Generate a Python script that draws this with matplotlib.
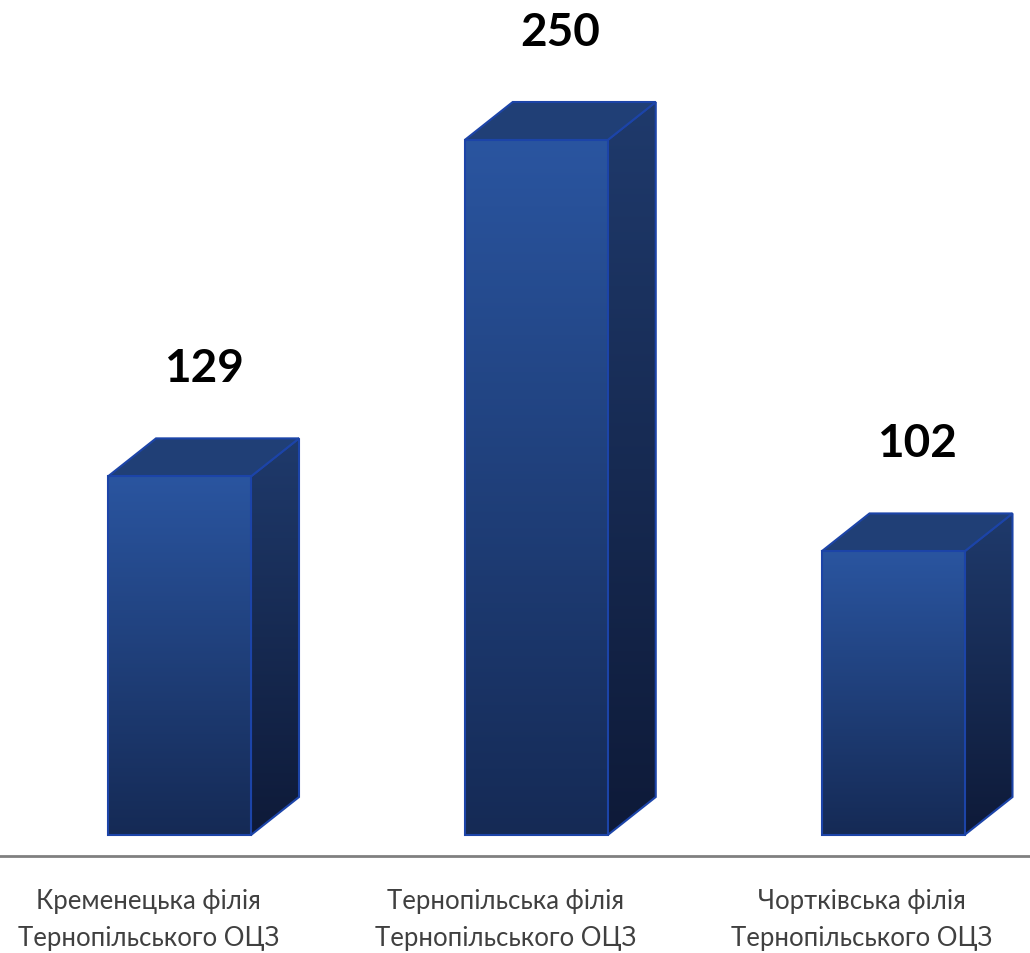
import matplotlib
matplotlib.use("Agg")
import matplotlib.pyplot as plt
import numpy as np
from matplotlib.patches import Polygon
from matplotlib.colors import LinearSegmentedColormap

plt.rcParams['font.family'] = ['Lato', 'DejaVu Sans']

# data
categories = ["Кременецька філія\nТернопільського ОЦЗ",
              "Тернопільська філія\nТернопільського ОЦЗ",
              "Чортківська філія\nТернопільського ОЦЗ"]
values = [129, 250, 102]

fig = plt.figure(figsize=(10.3, 9.54), dpi=100)
ax = fig.add_axes([0, 0, 1, 1])

# pixel geometry mapped to data units
px_per_cat = 356.75
px_per_val = 2.78
x0_px = 179.5
base_px = 118
ax.set_xlim(-x0_px / px_per_cat, (1030 - x0_px) / px_per_cat)
ax.set_ylim(-base_px / px_per_val, (954 - base_px) / px_per_val)
ax.axis('off')

w = 143 / px_per_cat
dx = 48 / px_per_cat
dy = 38 / px_per_val

front_cm = LinearSegmentedColormap.from_list('f', ['#152a55', '#2a55a0'])
side_cm = LinearSegmentedColormap.from_list('s', ['#0e1a38', '#1f3a6c'])
edge = '#1c44a8'

def grad_poly(verts, cmap, zorder):
    poly = Polygon(verts, closed=True, facecolor='none', edgecolor=edge, lw=1.5, zorder=zorder + 1)
    ax.add_patch(poly)
    xs = [v[0] for v in verts]
    ys = [v[1] for v in verts]
    grad = np.linspace(0, 1, 256).reshape(-1, 1)
    im = ax.imshow(grad, cmap=cmap, origin='lower', aspect='auto',
                   extent=[min(xs), max(xs), min(ys), max(ys)], zorder=zorder)
    im.set_clip_path(poly)

for i, v in enumerate(values):
    l, r = i - w / 2, i + w / 2
    # side face
    grad_poly([(r, 0), (r + dx, dy), (r + dx, v + dy), (r, v)], side_cm, 2)
    # top face
    ax.add_patch(Polygon([(l, v), (r, v), (r + dx, v + dy), (l + dx, v + dy)],
                         closed=True, facecolor='#203f76', edgecolor=edge, lw=1.5, zorder=3))
    # front face
    grad_poly([(l, 0), (r, 0), (r, v), (l, v)], front_cm, 4)
    ax.text(i + dx / 2, v + dy + 70 / px_per_val, str(v), ha='center', va='center',
            fontsize=33, fontweight='bold', color='black')
    ax.text(i - 31 / px_per_cat, -84 / px_per_val, categories[i], ha='center', va='center',
            fontsize=18.5, color='#404040', linespacing=1.6)

# baseline axis line
ax.axhline(-21 / px_per_val, color='#808080', lw=2, zorder=1)

fig.savefig('out.png', dpi=100)
